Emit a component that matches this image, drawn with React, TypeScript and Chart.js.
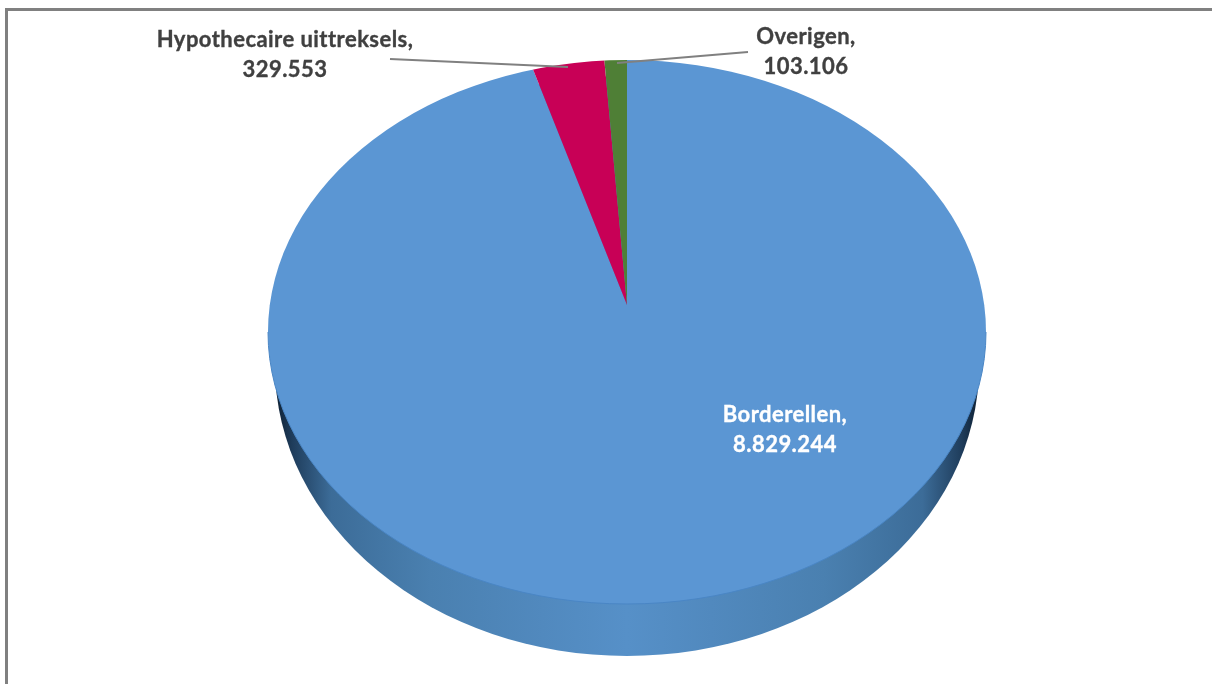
import React, { useEffect, useRef } from "react";
import { Chart, registerables } from "chart.js";

Chart.register(...registerables);

const categories = ["Borderellen", "Hypothecaire uittreksels", "Overigen"];
const values = [8829244, 329553, 103106];
const sliceColors = ["#5B96D3", "#C80056", "#4F7F36"];

const CX = 627;
const APEX_Y = 305;
const TOP_CY = 332;
const TOP_RX = 359;
const TOP_RY = 272;
const WALL_CY = 366;
const WALL_RX = 352;
const WALL_RY = 290;
const TILT = TOP_RY / TOP_RX;

const labelSpots = [
  { x: 785, y: 415, color: "#FFFFFF" },
  { x: 285, y: 40, color: "#404040" },
  { x: 806, y: 37, color: "#404040" },
];
const leaders = [
  null,
  [390, 59, 568, 67],
  [748, 52, 617, 63],
];

const fmt = (n: number) => String(n).replace(/\B(?=(\d{3})+(?!\d))/g, ".");

const pie3d = {
  id: "pie3d",
  beforeDatasetsDraw(chart: any) {
    const { ctx } = chart;
    ctx.save();
    const g = ctx.createLinearGradient(CX - WALL_RX, 0, CX + WALL_RX, 0);
    g.addColorStop(0, "#0E2033");
    g.addColorStop(0.025, "#1F3D5C");
    g.addColorStop(0.08, "#3C6C98");
    g.addColorStop(0.22, "#4A80B0");
    g.addColorStop(0.38, "#5189BE");
    g.addColorStop(0.5, "#5690C8");
    g.addColorStop(0.62, "#5189BE");
    g.addColorStop(0.78, "#4A80B0");
    g.addColorStop(0.92, "#3C6C98");
    g.addColorStop(0.975, "#1F3D5C");
    g.addColorStop(1, "#0E2033");
    ctx.fillStyle = g;
    ctx.beginPath();
    ctx.ellipse(CX, WALL_CY, WALL_RX, WALL_RY, 0, 0, Math.PI * 2);
    ctx.fill();
    ctx.restore();

    ctx.save();
    ctx.beginPath();
    ctx.ellipse(CX, TOP_CY, TOP_RX, TOP_RY, 0, 0, Math.PI * 2);
    ctx.clip();
    ctx.translate(CX, APEX_Y);
    ctx.scale(1, TILT);
    ctx.translate(-CX, -APEX_Y);
  },
  afterDatasetsDraw(chart: any) {
    const { ctx } = chart;
    ctx.restore();
    ctx.save();
    ctx.strokeStyle = "#4A86C5";
    ctx.lineWidth = 1;
    ctx.beginPath();
    ctx.ellipse(CX, TOP_CY, TOP_RX, TOP_RY, 0, 0, Math.PI);
    ctx.stroke();

    ctx.strokeStyle = "#808080";
    ctx.lineWidth = 2.2;
    leaders.forEach((l) => {
      if (!l) return;
      ctx.beginPath();
      ctx.moveTo(l[0], l[1]);
      ctx.lineTo(l[2], l[3]);
      ctx.stroke();
    });

    ctx.font = 'bold 22px Lato, "Open Sans", sans-serif';
    (ctx as any).letterSpacing = "0.45px";
    ctx.textAlign = "center";
    ctx.textBaseline = "middle";
    ctx.lineWidth = 0.35;
    categories.forEach((name, i) => {
      const s = labelSpots[i];
      ctx.fillStyle = s.color;
      ctx.strokeStyle = s.color;
      ctx.fillText(name + ",", s.x, s.y);
      ctx.strokeText(name + ",", s.x, s.y);
      ctx.fillText(fmt(values[i]), s.x, s.y + 30);
      ctx.strokeText(fmt(values[i]), s.x, s.y + 30);
    });
    ctx.restore();
  },
};

export default function App() {
  const ref = useRef<HTMLCanvasElement>(null);
  useEffect(() => {
    document.body.style.margin = "0";
    document.body.style.background = "#FFFFFF";
    const chart = new Chart(ref.current!, {
      type: "pie",
      data: {
        labels: categories,
        datasets: [
          {
            data: values,
            backgroundColor: sliceColors,
            borderWidth: 0,
            clip: false,
          } as any,
        ],
      },
      options: {
        responsive: false,
        animation: false,
        radius: 420,
        layout: { padding: { left: 42, right: 0, top: 0, bottom: 74 } },
        events: [],
        plugins: { legend: { display: false }, tooltip: { enabled: false } },
      } as any,
      plugins: [pie3d],
    });
    return () => chart.destroy();
  }, []);
  return (
    <div style={{ position: "relative", width: 1212, height: 684, overflow: "hidden" }}>
      <div style={{ position: "absolute", left: 5, top: 8, right: 0, height: 3, background: "#808080" }} />
      <div style={{ position: "absolute", left: 5, top: 8, bottom: 0, width: 3, background: "#808080" }} />
      <canvas ref={ref} width={1212} height={684} style={{ position: "absolute", left: 0, top: 0, width: 1212, height: 684 }} />
    </div>
  );
}
